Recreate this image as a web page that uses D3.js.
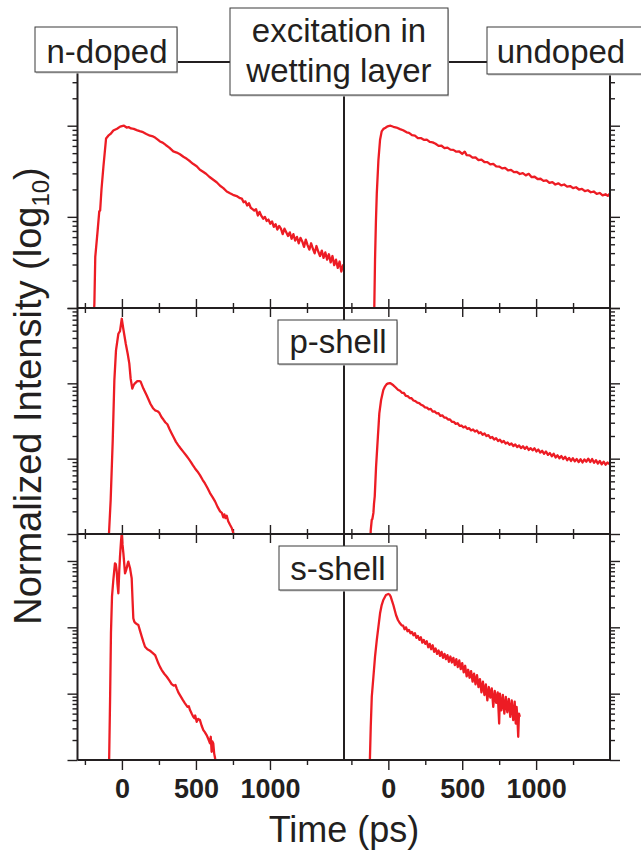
<!DOCTYPE html>
<html>
<head>
<meta charset="utf-8">
<script src="https://cdn.jsdelivr.net/npm/d3@7"></script>
<style>
  body { margin: 0; background: #fff; }
  svg { display: block; }
  text { font-family: "Liberation Sans", Arial, Helvetica, sans-serif; fill: #231f20; }
</style>
</head>
<body>
<svg id="chart" width="641" height="854"></svg>
<script>
// time axis (ps), same for both columns
var timeDomain = [-300, 1500];
var majorTimes = [0, 500, 1000];
var minorTimes = [-250, 250, 750, 1250];
var timeLabels = ["0", "500", "1000"];

// panel titles
var titleLeft = "n-doped", titleRight = "undoped";
var titleTop = ["excitation in", "wetting layer"];
var titleMid = "p-shell", titleBot = "s-shell";
var yTitle = "Normalized Intensity (log", ySub = "10", xTitle = "Time (ps)";

// [time ps, log10 normalized intensity]
// n-doped, excitation in wetting layer
var nWL = [[-190,-2.1],[-186,-1.95],[-180,-1.44],[-164,-1.15],[-153,-0.94],[-147,-0.93],[-138,-0.70],[-125,-0.45],
  [-107,-0.14],[-92,-0.11],[-77,-0.09],[-58,-0.052],[-33,-0.033],[-12,-0.01],[0,-0.005],[14,0.0],[32,-0.02],[45,-0.015],
  [61,-0.03],[80,-0.035],[100,-0.048],[120,-0.06],[143,-0.071],[165,-0.09],[190,-0.11],[210,-0.118],[224,-0.13],[240,-0.15],
  [257,-0.173],[275,-0.185],[298,-0.214],[320,-0.24],[347,-0.282],[370,-0.295],[392,-0.313],[415,-0.34],[438,-0.363],
  [460,-0.39],[480,-0.418],[505,-0.445],[527,-0.484],[548,-0.505],[568,-0.527],[590,-0.56],[617,-0.593],[640,-0.62],
  [663,-0.659],[685,-0.685],[708,-0.722],[730,-0.742],[750,-0.758],[775,-0.772],[798,-0.795],
  [810,-0.80],[822,-0.84],[834,-0.83],[846,-0.875],[858,-0.85],[870,-0.90],[882,-0.915],[894,-0.93],[906,-0.915],
  [918,-0.985],[930,-0.945],[942,-0.99],[954,-1.02],[966,-1.0],[978,-1.045],[990,-1.03],[1002,-1.075],[1014,-1.05],
  [1026,-1.11],[1038,-1.08],[1050,-1.14],[1062,-1.10],[1074,-1.13],[1086,-1.19],[1098,-1.13],[1110,-1.17],[1122,-1.21],
  [1134,-1.17],[1146,-1.24],[1158,-1.19],[1170,-1.26],[1182,-1.22],[1194,-1.29],[1206,-1.23],[1218,-1.27],[1230,-1.33],
  [1242,-1.25],[1254,-1.31],[1266,-1.36],[1278,-1.29],[1290,-1.35],[1302,-1.40],[1314,-1.32],[1326,-1.38],[1338,-1.43],
  [1350,-1.37],[1362,-1.45],[1374,-1.39],[1386,-1.47],[1398,-1.41],[1410,-1.50],[1422,-1.43],[1434,-1.53],[1446,-1.47],
  [1458,-1.56],[1470,-1.49],[1482,-1.60],[1494,-1.53],[1500,-1.58]];

// undoped, excitation in wetting layer
var uWL = [[-96,-2.1],[-90,-1.47],[-84,-1.05],[-78,-0.74],[-67,-0.374],[-56,-0.154],[-45,-0.062],[-33,-0.035],[-22,-0.026],
  [-10,-0.012],[0,-0.005],[15,0.0],[34,-0.012],[55,-0.02],[79,-0.037],[100,-0.05],[124,-0.073],
  [140,-0.078],[160,-0.104],[180,-0.108],[200,-0.135],[220,-0.136],[240,-0.155],[260,-0.152],[280,-0.178],[300,-0.183],
  [320,-0.198],[340,-0.222],[360,-0.22],[380,-0.245],[400,-0.24],[420,-0.262],[440,-0.265],[460,-0.285],[480,-0.283],
  [500,-0.31],[517,-0.285],[530,-0.322],[550,-0.325],[570,-0.35],[590,-0.348],[610,-0.378],[630,-0.372],[650,-0.398],
  [670,-0.40],[690,-0.425],[710,-0.418],[730,-0.447],[750,-0.448],[770,-0.468],[790,-0.462],[810,-0.49],[830,-0.485],
  [850,-0.51],[870,-0.508],[890,-0.53],[910,-0.52],[930,-0.545],[950,-0.528],[970,-0.565],[990,-0.56],[1010,-0.585],
  [1030,-0.582],[1050,-0.605],[1070,-0.60],[1090,-0.628],[1110,-0.618],[1130,-0.645],[1150,-0.632],[1170,-0.655],
  [1190,-0.645],[1210,-0.668],[1230,-0.662],[1250,-0.685],[1270,-0.675],[1290,-0.70],[1310,-0.692],[1330,-0.718],
  [1350,-0.708],[1370,-0.73],[1390,-0.722],[1410,-0.748],[1430,-0.738],[1450,-0.765],[1470,-0.752],[1485,-0.77],[1497,-0.748]];

// n-doped, p-shell
var nP = [[-90,-2.1],[-76,-1.55],[-62,-0.755],[-51,0.04],[-40,0.437],[-24,0.658],[-13,0.693],[-1,0.857],[9,0.728],
  [26,0.526],[39,0.393],[50,0.261],[59,0.062],[70,-0.07],[80,-0.02],[88,0.0],[104,0.03],[118,0.03],[127,0.02],
  [145,-0.07],[167,-0.159],[194,-0.278],[210,-0.33],[224,-0.358],[240,-0.37],[253,-0.393],[268,-0.45],[280,-0.481],
  [294,-0.52],[307,-0.543],[322,-0.61],[336,-0.666],[350,-0.72],[365,-0.777],[380,-0.82],[397,-0.865],[415,-0.91],
  [433,-0.954],[450,-1.0],[465,-1.042],[480,-1.09],[494,-1.13],[510,-1.17],[527,-1.219],[545,-1.28],[561,-1.329],
  [578,-1.39],[595,-1.457],[612,-1.51],[629,-1.567],[646,-1.64],[663,-1.70],[675,-1.72],[685,-1.78],[692,-1.74],
  [700,-1.79],[708,-1.758],[718,-1.83],[730,-1.877],[742,-1.92],[752,-1.987],[762,-2.06]];

// undoped, p-shell
var uP = [[-122,-2.1],[-119,-1.95],[-112,-1.81],[-108,-1.80],[-101,-1.72],[-97,-1.6],[-92,-1.5],[-83,-1.105],[-72,-0.751],
  [-61,-0.398],[-49,-0.221],[-34,-0.089],[-22,-0.04],[-11,-0.01],[0,0.0],[11,0.004],[22,-0.01],[34,-0.026],
  [50,-0.055],[65,-0.085],[79,-0.098],[92,-0.125],[105,-0.128],[118,-0.165],[131,-0.17],[144,-0.195],[157,-0.198],
  [170,-0.228],[183,-0.235],[196,-0.255],[209,-0.262],[222,-0.285],[235,-0.295],[248,-0.318],[261,-0.322],[274,-0.345],
  [287,-0.34],[300,-0.375],[313,-0.372],[326,-0.398],[339,-0.395],[352,-0.432],[365,-0.425],[378,-0.455],[391,-0.455],
  [404,-0.48],[417,-0.478],[430,-0.51],[443,-0.512],[456,-0.538],[469,-0.53],[482,-0.565],[495,-0.56],[508,-0.585],
  [521,-0.572],[534,-0.605],[547,-0.595],[560,-0.625],[573,-0.612],[586,-0.64],[599,-0.625],[612,-0.662],[625,-0.65],
  [638,-0.682],[651,-0.665],[664,-0.70],[677,-0.688],[690,-0.725],[703,-0.712],[716,-0.745],[729,-0.728],[742,-0.765],
  [755,-0.748],[768,-0.782],[781,-0.765],[794,-0.80],[807,-0.785],[820,-0.815],[833,-0.798],[846,-0.832],[859,-0.812],
  [872,-0.845],[885,-0.825],[898,-0.86],[911,-0.835],[924,-0.87],[937,-0.842],[950,-0.885],[963,-0.86],[976,-0.89],
  [989,-0.862],[1002,-0.905],[1015,-0.878],[1028,-0.92],[1041,-0.895],[1054,-0.935],[1067,-0.905],[1080,-0.95],
  [1093,-0.925],[1106,-0.968],[1119,-0.935],[1132,-0.985],[1145,-0.955],[1158,-0.995],[1171,-0.965],[1184,-1.005],
  [1197,-0.975],[1210,-1.02],[1223,-0.99],[1236,-1.03],[1249,-0.995],[1262,-1.035],[1275,-1.005],[1288,-1.045],
  [1301,-1.008],[1314,-1.05],[1327,-1.01],[1340,-1.04],[1353,-1.0],[1366,-1.045],[1379,-1.005],[1392,-1.055],
  [1405,-1.02],[1418,-1.065],[1431,-1.03],[1444,-1.075],[1457,-1.04],[1470,-1.08],[1483,-1.05],[1495,-1.075]];

// n-doped, s-shell
var nS = [[-87,-3.1],[-80,-2.1],[-74,-1.09],[-67,-0.538],[-58,-0.287],[-52,-0.15],[-47,-0.035],[-41,-0.05],[-35,-0.161],
  [-30,-0.35],[-24,-0.487],[-18,-0.15],[-13,0.065],[-6,0.3],[-1,0.42],[4,0.25],[10,0.116],[16,-0.05],[21,-0.186],
  [27,-0.15],[32,-0.11],[38,-0.05],[43,-0.01],[49,-0.06],[55,-0.11],[60,-0.18],[66,-0.261],[72,-0.6],[77,-0.864],
  [83,-0.91],[88,-0.93],[100,-0.95],[111,-0.965],[122,-1.05],[134,-1.14],[145,-1.22],[156,-1.293],[172,-1.33],
  [190,-1.353],[205,-1.38],[224,-1.418],[235,-1.48],[246,-1.543],[258,-1.6],[269,-1.644],[286,-1.70],[303,-1.745],
  [320,-1.80],[336,-1.855],[350,-1.88],[362,-1.87],[370,-1.92],[381,-1.98],[392,-2.021],[410,-2.09],[426,-2.146],
  [443,-2.2],[452,-2.19],[460,-2.247],[471,-2.3],[482,-2.348],[490,-2.37],[495,-2.33],[505,-2.424],[515,-2.38],
  [527,-2.398],[538,-2.48],[550,-2.549],[560,-2.58],[572,-2.624],[583,-2.68],[595,-2.75],[600,-2.65],[606,-2.876],
  [611,-2.72],[617,-2.75],[623,-2.9],[629,-2.97],[636,-3.1]];

// undoped, s-shell
var uS = [[-126,-3.1],[-119,-2.5],[-112,-2.047],[-101,-1.745],[-90,-1.443],[-78,-1.19],[-67,-0.99],[-56,-0.789],
  [-45,-0.664],[-34,-0.588],[-16,-0.513],[0,-0.498],[8,-0.505],[16,-0.538],[25,-0.6],[34,-0.664],[43,-0.74],
  [52,-0.814],[65,-0.89],[79,-0.94],[90,-0.97],[100,-0.975],[110,-1.03],[120,-1.0],[130,-1.06],[140,-1.04],[150,-1.09],
  [160,-1.07],[170,-1.12],[180,-1.09],[190,-1.16],[200,-1.13],[210,-1.19],[220,-1.15],[230,-1.23],[240,-1.19],
  [250,-1.25],[260,-1.21],[270,-1.3],[280,-1.25],[290,-1.33],[300,-1.27],[310,-1.37],[320,-1.32],[330,-1.4],
  [340,-1.35],[350,-1.43],[360,-1.37],[370,-1.46],[380,-1.4],[390,-1.48],[400,-1.42],[410,-1.52],[420,-1.44],
  [430,-1.53],[440,-1.46],[450,-1.57],[460,-1.48],[470,-1.6],[480,-1.5],[490,-1.63],[500,-1.54],[510,-1.68],
  [520,-1.58],[530,-1.74],[540,-1.64],[550,-1.76],[560,-1.66],[570,-1.82],[580,-1.7],[590,-1.86],[600,-1.72],
  [610,-1.9],[620,-1.78],[630,-1.98],[640,-1.82],[650,-2.02],[660,-1.86],[670,-2.1],[680,-1.9],[690,-2.06],
  [700,-1.92],[710,-2.2],[720,-1.96],[730,-2.14],[740,-1.98],[750,-2.45],[755,-2.0],[765,-2.25],[775,-2.02],
  [785,-2.3],[795,-2.05],[805,-2.28],[815,-2.08],[825,-2.35],[835,-2.1],[845,-2.4],[855,-2.12],[862,-2.45],
  [868,-2.2],[874,-2.4],[879,-2.65],[884,-2.3],[890,-2.35]];

var svg = d3.select("#chart");
var ink = "#231f20", red = "#ed1c24";

// frame geometry
var L = 77.5, M = 344, R = 610;
var rowEdges = [62, 308, 534, 760];
var rowDomains = [[0.01, 5], [0.01, 10], [0.001, 2.55]];

var xCol = [
  d3.scaleLinear().domain(timeDomain).range([L, M]),
  d3.scaleLinear().domain(timeDomain).range([M, R])
];
var yRow = rowDomains.map(function(d, i) {
  return d3.scaleLog().domain(d).range([rowEdges[i + 1], rowEdges[i]]);
});

function logTicks(dom, major) {
  var out = [];
  for (var e = -3; e <= 1; e++) {
    var b = Math.pow(10, e);
    if (major) {
      if (b >= dom[0] * 0.999 && b <= dom[1] * 1.001) out.push(b);
    } else {
      for (var k = 2; k <= 9; k++) {
        var v = k * b;
        if (v > dom[0] && v < dom[1]) out.push(v);
      }
    }
  }
  return out;
}

function styleAxis(g) {
  g.select(".domain").remove();
  g.selectAll(".tick line").attr("stroke", ink).attr("stroke-width", 1.4);
}

// y axes: left side of left column, right side of right column
yRow.forEach(function(y) {
  [[L, d3.axisLeft], [R, d3.axisRight]].forEach(function(s) {
    svg.append("g").attr("transform", "translate(" + s[0] + ",0)")
      .call(s[1](y).tickValues(logTicks(y.domain(), true)).tickSize(10).tickFormat(""))
      .call(styleAxis);
    svg.append("g").attr("transform", "translate(" + s[0] + ",0)")
      .call(s[1](y).tickValues(logTicks(y.domain(), false)).tickSize(5).tickFormat(""))
      .call(styleAxis);
  });
});

// x axes
xCol.forEach(function(x) {
  [rowEdges[1], rowEdges[2]].forEach(function(yy) {
    svg.append("g").attr("transform", "translate(0," + yy + ")")
      .call(d3.axisBottom(x).tickValues(majorTimes).tickSize(9).tickFormat(""))
      .call(styleAxis)
      .selectAll(".tick line").attr("y1", -9);
    svg.append("g").attr("transform", "translate(0," + yy + ")")
      .call(d3.axisBottom(x).tickValues(minorTimes).tickSize(5).tickFormat(""))
      .call(styleAxis)
      .selectAll(".tick line").attr("y1", -5);
  });
  var gb = svg.append("g").attr("transform", "translate(0," + rowEdges[3] + ")")
    .call(d3.axisBottom(x).tickValues(majorTimes).tickSize(10).tickPadding(9)
      .tickFormat(function(d, i) { return timeLabels[i]; }))
    .call(styleAxis);
  gb.selectAll("text").attr("fill", ink).style("font-size", "27px").style("font-weight", "bold")
    .style("font-family", "'Liberation Sans', Arial, sans-serif");
  svg.append("g").attr("transform", "translate(0," + rowEdges[3] + ")")
    .call(d3.axisBottom(x).tickValues(minorTimes).tickSize(5).tickFormat(""))
    .call(styleAxis);
});

// curves
var defs = svg.append("defs");
var panels = [
  { data: nWL, col: 0, row: 0 }, { data: uWL, col: 1, row: 0 },
  { data: nP, col: 0, row: 1 }, { data: uP, col: 1, row: 1 },
  { data: nS, col: 0, row: 2 }, { data: uS, col: 1, row: 2 }
];
panels.forEach(function(p, i) {
  var x = xCol[p.col], y = yRow[p.row];
  defs.append("clipPath").attr("id", "clip" + i).append("rect")
    .attr("x", x.range()[0]).attr("y", rowEdges[p.row])
    .attr("width", x.range()[1] - x.range()[0]).attr("height", rowEdges[p.row + 1] - rowEdges[p.row]);
  var line = d3.line()
    .x(function(d) { return x(d[0]); })
    .y(function(d) { return y(Math.pow(10, d[1])); });
  svg.append("path").datum(p.data)
    .attr("clip-path", "url(#clip" + i + ")")
    .attr("d", line)
    .attr("fill", "none").attr("stroke", red).attr("stroke-width", 2.3)
    .attr("stroke-linejoin", "round");
});

// frame lines
var frame = svg.append("g").attr("stroke", ink).attr("stroke-width", 2);
[L, M, R].forEach(function(xx) {
  frame.append("line").attr("x1", xx).attr("x2", xx).attr("y1", rowEdges[0]).attr("y2", rowEdges[3]);
});
rowEdges.forEach(function(yy) {
  frame.append("line").attr("x1", L).attr("x2", R).attr("y1", yy).attr("y2", yy);
});

// label boxes
function box(x0, y0, w, h, lines, baselines, cx) {
  svg.append("rect").attr("x", x0 + 1).attr("y", y0 + 1.5).attr("width", w).attr("height", h).attr("fill", "#c8c8c8");
  svg.append("rect").attr("x", x0).attr("y", y0).attr("width", w).attr("height", h)
    .attr("fill", "#fff").attr("stroke", "#3a3a3a").attr("stroke-width", 1);
  lines.forEach(function(t, i) {
    svg.append("text").attr("x", cx).attr("y", baselines[i]).attr("text-anchor", "middle")
      .style("font-size", "33px").text(t);
  });
}
box(35, 27, 142, 45, [titleLeft], [63], 107);
box(230, 8, 218, 87, titleTop, [42, 82], 339);
box(487, 27, 160, 47, [titleRight], [63], 561);
box(278, 320, 119, 44, [titleMid], [353], 338);
box(279, 546, 118, 44, [titleBot], [580], 338);

// axis titles
svg.append("text").attr("x", 344).attr("y", 842).attr("text-anchor", "middle")
  .style("font-size", "36px").text(xTitle);
var yt = svg.append("text").attr("transform", "translate(41,396) rotate(-90)")
  .attr("text-anchor", "middle").style("font-size", "38px");
yt.append("tspan").text(yTitle);
yt.append("tspan").attr("dy", 8).style("font-size", "24px").text(ySub);
yt.append("tspan").attr("dy", -8).text(")");
</script>
</body>
</html>
